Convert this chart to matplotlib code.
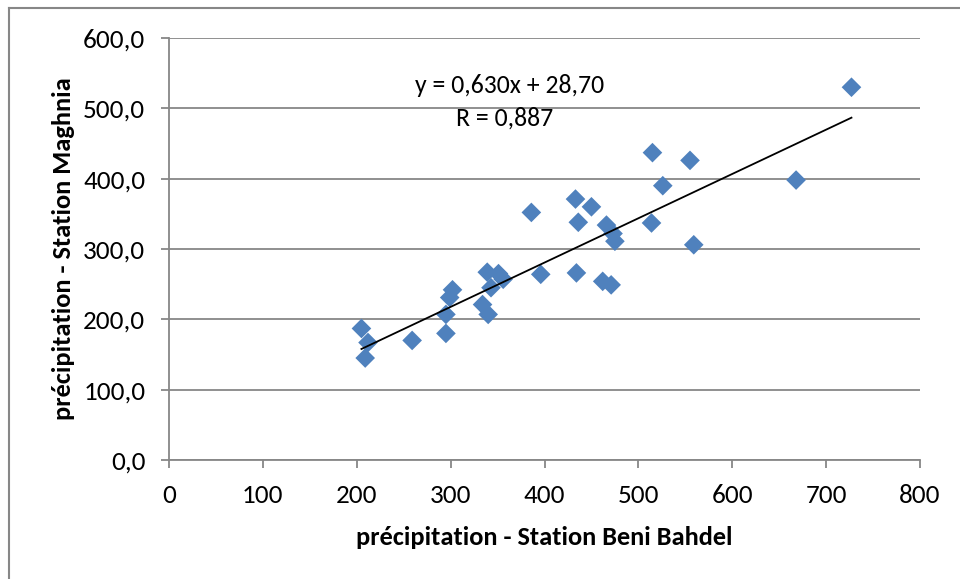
"""
Scatter of annual precipitation: Station Beni Bahdel vs. Station Maghnia,
with linear trend line (Excel-style chart).
Output: out.png
"""

import matplotlib
matplotlib.use("Agg")
import matplotlib.pyplot as plt
from matplotlib.lines import Line2D
from matplotlib.ticker import FuncFormatter

# -- Data ----------------------------------------------------------------------

beni_bahdel = [205, 212, 209, 259, 295, 295, 299, 302, 334, 340, 339, 343,
               351, 356, 396, 434, 462, 471,
               727, 515, 555, 526, 668, 386, 433, 450, 436, 466, 473, 475,
               514, 559]
maghnia = [187, 167, 145, 170, 180, 207, 231, 242, 221, 207, 267, 245,
           265, 257, 264, 266, 254, 249,
           530, 437, 426, 390, 398, 352, 371, 360, 338, 334, 322, 311,
           337, 306]

SLOPE     = 0.630
INTERCEPT = 28.70
R_VALUE   = 0.887

X_TICKS = [0, 100, 200, 300, 400, 500, 600, 700, 800]
Y_TICKS = [0, 100, 200, 300, 400, 500, 600]

X_LABEL = "précipitation - Station Beni Bahdel"
Y_LABEL = "précipitation - Station Maghnia"

FONT = ["Carlito", "Lato", "DejaVu Sans"]
GRID_GREY = "#878787"
BLUE = "#4F81BD"

plt.rcParams["font.family"] = FONT

# -- Plot ----------------------------------------------------------------------

fig = plt.figure(figsize=(9.6, 5.79), dpi=100)
ax = fig.add_axes([169 / 960, 1 - 460 / 579, (920 - 169) / 960, (460 - 38) / 579])

ax.scatter(beni_bahdel, maghnia, marker="D", s=100, color=BLUE,
           edgecolors="none", zorder=3)

# trend line over the data range
x0, x1 = min(beni_bahdel), max(beni_bahdel)
ax.plot([x0, x1], [SLOPE * x0 + INTERCEPT, SLOPE * x1 + INTERCEPT],
        color="black", linewidth=1.3, zorder=4)

ax.set_xlim(0, 800)
ax.set_ylim(0, 600)
ax.set_xticks(X_TICKS)
ax.set_yticks(Y_TICKS)
ax.yaxis.set_major_formatter(FuncFormatter(lambda v, p: f"{v:.1f}".replace(".", ",")))

ax.grid(True, axis="y", color=GRID_GREY, linewidth=1.3, zorder=0)
ax.set_axisbelow(True)
for side in ("top", "right"):
    ax.spines[side].set_visible(False)
for side in ("left", "bottom"):
    ax.spines[side].set_color(GRID_GREY)
    ax.spines[side].set_linewidth(1.3)

ax.tick_params(axis="both", direction="out", length=6, width=1.3,
               color=GRID_GREY, labelsize=19.5)
ax.tick_params(axis="y", pad=11)
ax.tick_params(axis="x", pad=11)

ax.set_xlabel(X_LABEL, fontsize=19, fontweight="bold", labelpad=14)
ax.set_ylabel(Y_LABEL, fontsize=19, fontweight="bold", labelpad=6)

# trend line equation
ax.text(0.454, 0.887, f"y = {SLOPE:.3f}x + {INTERCEPT:.2f}".replace(".", ","),
        transform=ax.transAxes, ha="center", va="center", fontsize=18.5)
ax.text(0.447, 0.810, f"R = {R_VALUE:.3f}".replace(".", ","),
        transform=ax.transAxes, ha="center", va="center", fontsize=18.5)

# chart area border (top and left edges visible)
fig.add_artist(Line2D([8.5 / 960, 1], [1 - 8 / 579, 1 - 8 / 579],
                      transform=fig.transFigure, color=GRID_GREY, linewidth=1.5))
fig.add_artist(Line2D([8.5 / 960, 8.5 / 960], [0, 1 - 8 / 579],
                      transform=fig.transFigure, color=GRID_GREY, linewidth=1.5))

fig.savefig("out.png", dpi=100)
